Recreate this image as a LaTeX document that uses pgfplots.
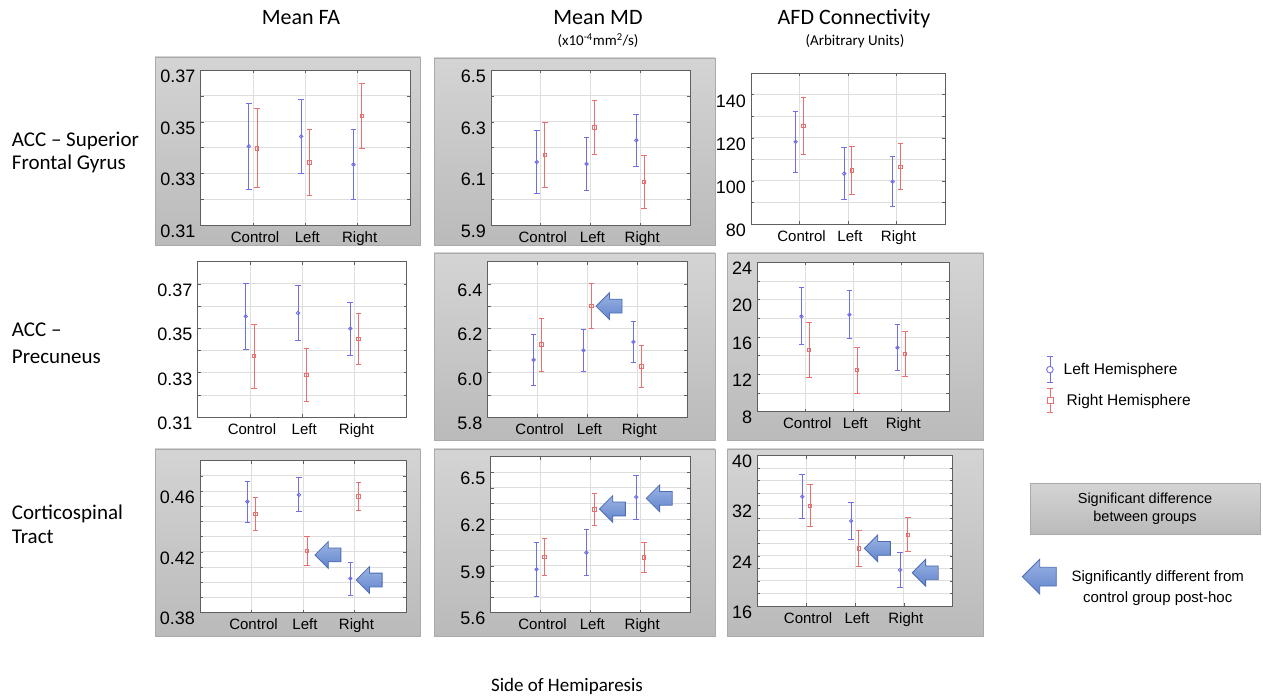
\documentclass[border=0pt]{standalone}
\usepackage{fontspec}
\setmainfont{Liberation Sans}
\newfontfamily\calfont{Carlito}
\usepackage{pgfplots}
\pgfplotsset{compat=1.18}
\usetikzlibrary{shapes.arrows}

\definecolor{gridc}{RGB}{222,222,222}
\definecolor{framec}{RGB}{95,95,95}
\definecolor{errblue}{RGB}{112,112,228}
\definecolor{errred}{RGB}{234,112,112}
\definecolor{paneltop}{RGB}{212,212,212}
\definecolor{panelbot}{RGB}{186,186,186}
\definecolor{paneledge}{RGB}{170,170,170}
\definecolor{arrtop}{RGB}{155,180,228}
\definecolor{arrbot}{RGB}{98,132,204}
\definecolor{arredge}{RGB}{78,108,178}

\tikzset{
  sigarrow/.style={single arrow, shape border rotate=180, draw=arredge, line width=0.8pt,
    top color=arrtop, bottom color=arrbot, inner xsep=0pt, inner ysep=6.5pt,
    single arrow head extend=6.5pt, minimum height=26pt, anchor=tip},
  gpanel/.style={top color=paneltop, bottom color=panelbot, draw=paneledge, line width=0.8pt},
}

\pgfplotsset{
  panel/.style={
    scale only axis, anchor=north west,
    xmin=0, xmax=4, xtick={1,2,3}, xticklabels={Control,Left,Right},
    grid=both,
    major grid style={draw=gridc, line width=0.9pt},
    minor grid style={draw=gridc, line width=0.9pt},
    axis line style={draw=framec, line width=0.9pt},
    tick style={draw=framec, line width=0.7pt},
    major tick length=3pt, minor tick length=3pt, tick align=inside,
    axis background/.style={fill=white},
    yticklabel style={font=\fontsize{18}{18}\selectfont, inner sep=0pt, xshift=-5pt, yshift=-6pt},
    xticklabel style={font=\fontsize{15}{15}\selectfont, inner sep=0pt, yshift=-6pt, xshift=2pt},
    /pgf/number format/assume math mode=true,
  },
  lh/.style={color=errblue, only marks, mark=o, mark size=1.7pt,
    mark options={draw=errblue, line width=0.9pt},
    error bars/y dir=both, error bars/y explicit,
    error bars/draw error bar/.code 2 args={%
      \draw[errblue, line width=0.85pt] ##1 -- ##2 ++(-2.8pt,0pt) -- ++(5.6pt,0pt);}},
  rh/.style={color=errred, only marks, mark=square, mark size=1.7pt,
    mark options={draw=errred, line width=0.9pt},
    error bars/y dir=both, error bars/y explicit,
    error bars/draw error bar/.code 2 args={%
      \draw[errred, line width=0.85pt] ##1 -- ##2 ++(-2.8pt,0pt) -- ++(5.6pt,0pt);}},
}

\begin{document}
\begin{tikzpicture}[x=1pt,y=1pt]
\useasboundingbox (0,0) rectangle (1263,698);

% grey panels = significant difference between groups
\shade[gpanel] (155,641) rectangle (420.7,453);
\shade[gpanel] (434,640) rectangle (715,453);
\shade[gpanel] (434,445) rectangle (715,257.3);
\shade[gpanel] (727.3,445) rectangle (983.3,257.3);
\shade[gpanel] (155,249) rectangle (420.7,61.3);
\shade[gpanel] (434,249) rectangle (715,62);
\shade[gpanel] (727.3,249) rectangle (983.3,62);

% column titles
\node[anchor=base, font=\calfont\fontsize{22}{22}\selectfont] at (301,673) {Mean FA};
\node[anchor=base, font=\calfont\fontsize{22}{22}\selectfont] at (598,673) {Mean MD};
\node[anchor=base, font=\calfont\fontsize{22}{22}\selectfont] at (854,673) {AFD Connectivity};
\node[anchor=base, font=\calfont\fontsize{15}{15}\selectfont] at (598,652) {(x10\textsuperscript{-4}mm\textsuperscript{2}/s)};
\node[anchor=base, font=\calfont\fontsize{15}{15}\selectfont] at (855,652) {(Arbitrary Units)};

% row labels
\begin{scope}[every node/.style={anchor=base west, inner sep=0pt, font=\calfont\fontsize{21}{21}\selectfont}]
\node at (11.7,551.3) {ACC – Superior};
\node at (11.7,528) {Frontal Gyrus};
\node at (11.7,361.3) {ACC –};
\node at (11.7,334.7) {Precuneus};
\node at (11.7,178.7) {Corticospinal};
\node at (11.7,154.7) {Tract};
\end{scope}

\node[anchor=base, font=\calfont\fontsize{19}{19}\selectfont] at (567,6) {Side of Hemiparesis};

% ---- row 1: ACC - Superior Frontal Gyrus
\begin{axis}[panel, at={(200.7pt,628pt)}, width=209.3pt, height=155.7pt,
  ymin=0.31, ymax=0.37, ytick={0.31,0.33,0.35,0.37}, yticklabels={0.31,0.33,0.35,0.37},
  minor ytick={0.32,0.34,0.36}]
\addplot[lh] coordinates {(0.92,0.3406) +- (0,0.0167) (1.92,0.3444) +- (0,0.0141) (2.92,0.3336) +- (0,0.0136)};
\addplot[rh] coordinates {(1.08,0.3398) +- (0,0.0152) (2.08,0.3343) +- (0,0.0128) (3.08,0.3522) +- (0,0.0125)};
\end{axis}

\begin{axis}[panel, at={(491pt,628pt)}, width=199pt, height=155.7pt,
  ymin=5.9, ymax=6.5, ytick={5.9,6.1,6.3,6.5}, yticklabels={5.9,6.1,6.3,6.5},
  minor ytick={6.0,6.2,6.4}]
\addplot[lh] coordinates {(0.92,6.145) +- (0,0.1225) (1.92,6.138) +- (0,0.1025) (2.92,6.229) +- (0,0.100)};
\addplot[rh] coordinates {(1.08,6.172) +- (0,0.126) (2.08,6.278) +- (0,0.1045) (3.08,6.068) +- (0,0.101)};
\end{axis}

\begin{axis}[panel, at={(751pt,624.7pt)}, width=194pt, height=150.7pt,
  ymin=80, ymax=150, ytick={80,100,120,140}, yticklabels={80,100,120,140},
  minor ytick={90,110,130}]
\addplot[lh] coordinates {(0.92,118.2) +- (0,14.3) (1.92,103.4) +- (0,12.0) (2.92,99.7) +- (0,11.5)};
\addplot[rh] coordinates {(1.08,125.5) +- (0,13.2) (2.08,104.8) +- (0,11.0) (3.08,106.6) +- (0,10.7)};
\end{axis}

% ---- row 2: ACC - Precuneus
\begin{axis}[panel, at={(197.7pt,436.3pt)}, width=209pt, height=155.6pt,
  ymin=0.31, ymax=0.38, ytick={0.31,0.33,0.35,0.37}, yticklabels={0.31,0.33,0.35,0.37},
  minor ytick={0.32,0.34,0.36}]
\addplot[lh] coordinates {(0.92,0.3554) +- (0,0.0147) (1.92,0.3569) +- (0,0.0123) (2.92,0.3499) +- (0,0.0119)};
\addplot[rh] coordinates {(1.08,0.3375) +- (0,0.0143) (2.08,0.3290) +- (0,0.0120) (3.08,0.3452) +- (0,0.0116)};
\end{axis}

\begin{axis}[panel, at={(487.7pt,436.3pt)}, width=199.6pt, height=155.6pt,
  ymin=5.8, ymax=6.5, ytick={5.8,6.0,6.2,6.4}, yticklabels={5.8,6.0,6.2,6.4},
  minor ytick={5.9,6.1,6.3}]
\addplot[lh] coordinates {(0.92,6.058) +- (0,0.1155) (1.92,6.101) +- (0,0.0965) (2.92,6.139) +- (0,0.094)};
\addplot[rh] coordinates {(1.08,6.127) +- (0,0.1185) (2.08,6.300) +- (0,0.100) (3.08,6.028) +- (0,0.0955)};
\node[sigarrow] at (axis cs:2.16,6.30) {};
\end{axis}

\begin{axis}[panel, at={(757.3pt,435.7pt)}, width=192pt, height=149.4pt,
  ymin=8, ymax=24, ytick={8,12,16,20,24}, yticklabels={8,12,16,20,24},
  minor ytick={10,14,18,22},
  legend style={at={(1.5036,0.3728)}, anchor=north west, draw=none, fill=none,
    font=\fontsize{15.5}{15.5}\selectfont, row sep=5pt, column sep=8pt,
    inner sep=0pt, nodes={inner sep=2pt}},
  legend cell align=left]
\addlegendimage{legend image code/.code={
  \draw[errblue, line width=0.9pt] (5pt,-13pt) -- (5pt,13pt) (2pt,-13pt) -- (8pt,-13pt) (2pt,13pt) -- (8pt,13pt);
  \draw[errblue, line width=0.9pt, fill=white] (5pt,0pt) circle (3.3pt);}}
\addlegendentry{Left Hemisphere}
\addlegendimage{legend image code/.code={
  \draw[errred, line width=0.9pt] (5pt,-12pt) -- (5pt,12pt) (2pt,-12pt) -- (8pt,-12pt) (2pt,12pt) -- (8pt,12pt);
  \draw[errred, line width=0.9pt, fill=white] (2pt,-3pt) rectangle (8pt,3pt);}}
\addlegendentry{\hspace{3pt}Right Hemisphere}
\addplot[lh] coordinates {(0.92,18.21) +- (0,3.05) (1.92,18.39) +- (0,2.55) (2.92,14.86) +- (0,2.47)};
\addplot[rh] coordinates {(1.08,14.61) +- (0,2.91) (2.08,12.46) +- (0,2.47) (3.08,14.18) +- (0,2.38)};
\end{axis}

% ---- row 3: Corticospinal Tract
\begin{axis}[panel, at={(200pt,237.3pt)}, width=206pt, height=152pt,
  ymin=0.38, ymax=0.48, ytick={0.38,0.42,0.46}, yticklabels={0.38,0.42,0.46},
  minor ytick={0.39,0.40,0.41,0.43,0.44,0.45,0.47}]
\addplot[lh] coordinates {(0.92,0.4531) +- (0,0.0134) (1.92,0.4575) +- (0,0.0112) (2.92,0.4025) +- (0,0.0109)};
\addplot[rh] coordinates {(1.08,0.4449) +- (0,0.0111) (2.08,0.4208) +- (0,0.0094) (3.08,0.4564) +- (0,0.0090)};
\node[sigarrow] at (axis cs:2.22,0.418) {};
\node[sigarrow] at (axis cs:3.02,0.4015) {};
\end{axis}

\begin{axis}[panel, at={(490.7pt,241.3pt)}, width=199.3pt, height=156pt,
  ymin=5.6, ymax=6.6, ytick={5.6,5.9,6.2,6.5}, yticklabels={5.6,5.9,6.2,6.5},
  minor ytick={5.7,5.8,6.0,6.1,6.3,6.4}]
\addplot[lh] coordinates {(0.92,5.878) +- (0,0.174) (1.92,5.985) +- (0,0.1465) (2.92,6.341) +- (0,0.141)};
\addplot[rh] coordinates {(1.08,5.959) +- (0,0.1175) (2.08,6.262) +- (0,0.100) (3.08,5.955) +- (0,0.095)};
\node[sigarrow] at (axis cs:2.17,6.265) {};
\node[sigarrow] at (axis cs:3.11,6.333) {};
\end{axis}

\begin{axis}[panel, at={(757.3pt,242.3pt)}, width=195.4pt, height=150.3pt,
  ymin=16, ymax=40, ytick={16,24,32,40}, yticklabels={16,24,32,40},
  minor ytick={18,20,22,26,28,30,34,36,38}]
\addplot[lh] coordinates {(0.92,33.46) +- (0,3.49) (1.92,29.57) +- (0,2.90) (2.92,21.75) +- (0,2.74)};
\addplot[rh] coordinates {(1.08,32.02) +- (0,3.33) (2.08,25.21) +- (0,2.82) (3.08,27.39) +- (0,2.74)};
\node[sigarrow] at (axis cs:2.18,25.2) {};
\node[sigarrow] at (axis cs:3.16,21.3) {};
\end{axis}

% key: grey box and arrow
\shade[gpanel] (1030,214.7) rectangle (1260,164);
\node[anchor=base, font=\fontsize{14.5}{14.5}\selectfont] at (1145,194.7) {Significant difference};
\node[anchor=base, font=\fontsize{14.5}{14.5}\selectfont] at (1145,176.3) {between groups};
\node[sigarrow, inner ysep=9pt, single arrow head extend=8pt, minimum height=34pt] at (1021.7,121.3) {};
\node[anchor=base, font=\fontsize{15}{15}\selectfont] at (1157.7,116.3) {Significantly different from};
\node[anchor=base, font=\fontsize{15}{15}\selectfont] at (1157.7,95) {control group post-hoc};
\end{tikzpicture}
\end{document}
